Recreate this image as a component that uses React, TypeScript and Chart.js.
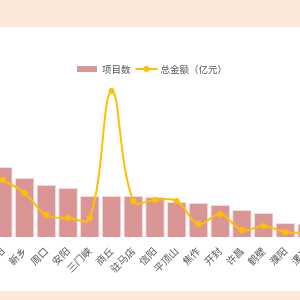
import React, { useEffect, useRef } from 'react';
import { Chart, registerables } from 'chart.js';

Chart.register(...registerables);

const cities = ['南阳', '新乡', '周口', '安阳', '三门峡', '商丘', '驻马店', '信阳', '平顶山', '焦作', '开封', '许昌', '鹤壁', '濮阳', '漯河'];
const projectCounts = [70, 59, 52, 49, 41, 41, 41, 40, 35, 34, 32, 27, 24, 14, 13];
const totalAmounts = [57, 44, 22, 19, 19, 146, 36, 37, 36, 13, 23, 7, 11, 5, 4];
const legendLabels = ['项目数', '总金额（亿元）'];

const BAR_COLOR = '#D99694';
const LINE_COLOR = '#FFC000';
const TEXT_COLOR = '#555555';
const FONT = '"Noto Sans CJK SC", "Noto Sans", sans-serif';

const legendPlugin = {
  id: 'customLegend',
  afterDraw(chart: any) {
    const ctx = chart.ctx as CanvasRenderingContext2D;
    ctx.save();
    ctx.font = `9.5px ${FONT}`;
    const w1 = ctx.measureText(legendLabels[0]).width;
    const w2 = ctx.measureText(legendLabels[1]).width;
    const boxW = 20, boxH = 6, gap1 = 5, gap2 = 5, lineW = 22, gap3 = 3;
    const total = boxW + gap1 + w1 + gap2 + lineW + gap3 + w2;
    let x = chart.width / 2 - total / 2;
    const y = 42;
    ctx.fillStyle = BAR_COLOR;
    ctx.fillRect(x, y - boxH / 2, boxW, boxH);
    x += boxW + gap1;
    ctx.fillStyle = TEXT_COLOR;
    ctx.textBaseline = 'middle';
    ctx.textAlign = 'left';
    ctx.fillText(legendLabels[0], x, y);
    x += w1 + gap2;
    ctx.strokeStyle = LINE_COLOR;
    ctx.lineWidth = 2;
    ctx.beginPath();
    ctx.moveTo(x, y);
    ctx.lineTo(x + lineW, y);
    ctx.stroke();
    ctx.fillStyle = LINE_COLOR;
    ctx.beginPath();
    ctx.arc(x + lineW / 2, y, 3, 0, Math.PI * 2);
    ctx.fill();
    x += lineW + gap3;
    ctx.fillStyle = TEXT_COLOR;
    ctx.fillText(legendLabels[1], x, y);
    ctx.restore();
  },
};

export default function App() {
  const canvasRef = useRef<HTMLCanvasElement | null>(null);

  useEffect(() => {
    if (!canvasRef.current) return;
    const chart = new Chart(canvasRef.current, {
      type: 'bar',
      data: {
        labels: cities,
        datasets: [
          {
            type: 'line',
            label: legendLabels[1],
            data: totalAmounts,
            yAxisID: 'y1',
            borderColor: LINE_COLOR,
            backgroundColor: LINE_COLOR,
            borderWidth: 2,
            pointRadius: 3,
            pointBackgroundColor: LINE_COLOR,
            pointBorderWidth: 0,
            tension: 0.4,
            order: 0,
          } as any,
          {
            type: 'bar',
            label: legendLabels[0],
            data: projectCounts,
            yAxisID: 'y',
            backgroundColor: BAR_COLOR,
            borderColor: '#F2DCDB',
            borderWidth: 1,
            categoryPercentage: 1,
            barPercentage: 0.9,
            order: 1,
          } as any,
        ],
      },
      options: {
        animation: false,
        responsive: true,
        maintainAspectRatio: false,
        layout: { padding: { top: 60, left: 10, right: 0, bottom: 0 } },
        plugins: {
          legend: { display: false },
          tooltip: { enabled: false },
        },
        scales: {
          x: {
            grid: { display: false, drawTicks: false },
            border: { display: false },
            ticks: {
              autoSkip: false,
              minRotation: 45,
              maxRotation: 45,
              padding: 8,
              color: TEXT_COLOR,
              font: { size: 10, family: FONT },
            },
            afterFit(scale: any) {
              scale.height = 54;
              scale.paddingLeft = 0;
              scale.paddingRight = 0;
            },
          },
          y: { display: false, min: 0, max: 150 },
          y1: { display: false, min: 0, max: 150, position: 'right' },
        },
      },
      plugins: [legendPlugin],
    });
    return () => chart.destroy();
  }, []);

  return (
    <div style={{ position: 'fixed', left: 0, top: 0, width: 300, height: 300, background: '#FCE8DA', overflow: 'hidden' }}>
      <div style={{ position: 'absolute', left: 0, top: 27, width: 300, height: 264, background: '#ffffff', overflow: 'hidden' }}>
        <div style={{ position: 'absolute', left: -18, top: 0, width: 340, height: 264 }}>
          <canvas ref={canvasRef} />
        </div>
      </div>
    </div>
  );
}
